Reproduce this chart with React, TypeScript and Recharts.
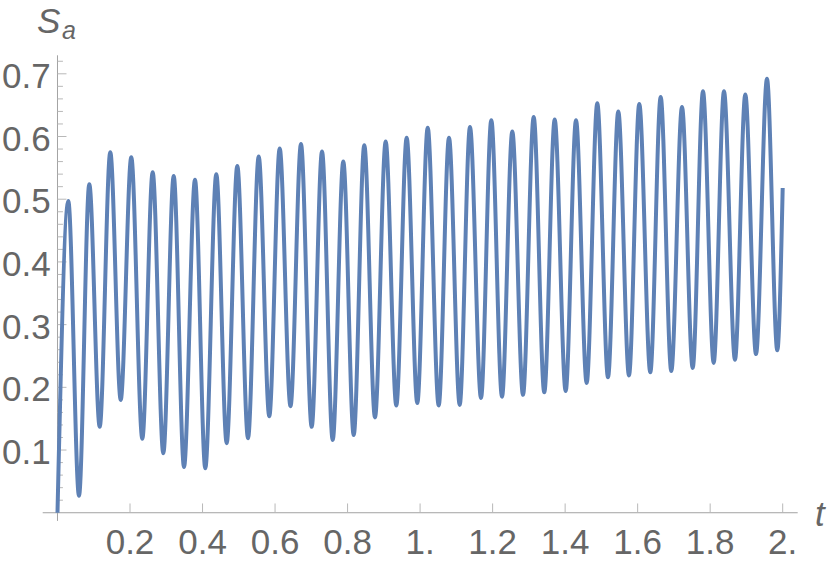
import React from 'react';
import { LineChart, Line, XAxis, YAxis, ReferenceLine } from 'recharts';

// Local maxima of S_a (t, value)
const peakT = [0.0298, 0.0877, 0.1456, 0.2035, 0.2625, 0.3205, 0.3792, 0.438, 0.4959, 0.5549, 0.6128, 0.6715, 0.7295, 0.7882, 0.8461, 0.9051, 0.963, 1.021, 1.0797, 1.1376, 1.1964, 1.2543, 1.3133, 1.3712, 1.43, 1.4887, 1.5466, 1.6045, 1.6635, 1.7223, 1.7802, 1.8381, 1.8969, 1.9567];
const peakS = [0.497, 0.524, 0.575, 0.567, 0.543, 0.537, 0.531, 0.54, 0.553, 0.568, 0.581, 0.588, 0.576, 0.56, 0.586, 0.592, 0.598, 0.614, 0.598, 0.615, 0.626, 0.608, 0.631, 0.627, 0.626, 0.653, 0.64, 0.652, 0.663, 0.647, 0.672, 0.672, 0.667, 0.692];
// Local minima of S_a (t, value)
const troughT = [0.0593, 0.1164, 0.1743, 0.2339, 0.2918, 0.3489, 0.4076, 0.4666, 0.5254, 0.5841, 0.6426, 0.701, 0.759, 0.8169, 0.8756, 0.9344, 0.9923, 1.0513, 1.1092, 1.168, 1.2259, 1.2838, 1.3425, 1.4015, 1.4594, 1.5182, 1.5761, 1.6349, 1.6928, 1.7518, 1.8097, 1.8684, 1.9264, 1.9851];
const troughS = [0.027, 0.137, 0.18, 0.118, 0.095, 0.073, 0.071, 0.111, 0.119, 0.154, 0.17, 0.137, 0.116, 0.124, 0.152, 0.171, 0.175, 0.171, 0.172, 0.183, 0.185, 0.188, 0.192, 0.194, 0.207, 0.216, 0.219, 0.224, 0.226, 0.231, 0.239, 0.244, 0.253, 0.259];
const startPoint = { t: 0, s: 0 };
const endPoint = { t: 2.0, s: 0.518 };

const xTicks = [0.2, 0.4, 0.6, 0.8, 1.0, 1.2, 1.4, 1.6, 1.8, 2.0];
const xTickLabels = ['0.2', '0.4', '0.6', '0.8', '1.', '1.2', '1.4', '1.6', '1.8', '2.'];
const yTicks = [0.1, 0.2, 0.3, 0.4, 0.5, 0.6, 0.7];
const yTickLabels = ['0.1', '0.2', '0.3', '0.4', '0.5', '0.6', '0.7'];
const yMinorTicks = [0.02, 0.04, 0.06, 0.08, 0.12, 0.14, 0.16, 0.18, 0.22, 0.24, 0.26, 0.28, 0.32, 0.34, 0.36, 0.38, 0.42, 0.44, 0.46, 0.48, 0.52, 0.54, 0.56, 0.58, 0.62, 0.64, 0.66, 0.68, 0.72];

const data: { t: number; s: number }[] = [startPoint];
peakT.forEach((t, i) => {
  data.push({ t, s: peakS[i] });
  data.push({ t: troughT[i], s: troughS[i] });
});
data.push(endPoint);

const LINE = '#5E81B5';
const AXIS = '#a3a3a3';
const TICK = '#b8b8b8';
const TEXT = '#666666';
const FONT = '"Liberation Sans", Arial, sans-serif';

const findLabel = (ticks: number[], labels: string[], v: number) => {
  let best = -1;
  ticks.forEach((t, i) => {
    if (Math.abs(t - v) < 1e-6) best = i;
  });
  return best >= 0 ? labels[best] : '';
};

const renderXTick = (props: any) => {
  const { x, y, payload } = props;
  return (
    <text x={x} y={y + 25} textAnchor="middle" fill={TEXT} fontSize={35} fontFamily={FONT}>
      {findLabel(xTicks, xTickLabels, payload.value)}
    </text>
  );
};

const renderYTick = (props: any) => {
  const { x, y, payload } = props;
  return (
    <text x={x + 16} y={y + 14} textAnchor="end" fill={TEXT} fontSize={35} fontFamily={FONT}>
      {findLabel(yTicks, yTickLabels, payload.value)}
    </text>
  );
};

export default function App() {
  return (
    <div style={{ position: 'absolute', left: 0, top: 0, width: 830, height: 563, background: '#fff' }}>
      <LineChart
        width={830}
        height={563}
        data={data}
        margin={{ top: 55.3, right: 32.3, bottom: 2.1, left: 2.7 }}
      >
        <XAxis
          dataKey="t"
          type="number"
          domain={[-0.0408, 2.0414]}
          ticks={xTicks}
          interval={0}
          axisLine={false}
          tickLine={false}
          height={40}
          tick={renderXTick}
          allowDataOverflow
        />
        <YAxis
          type="number"
          domain={[-0.013, 0.7295]}
          ticks={yTicks}
          interval={0}
          axisLine={false}
          tickLine={false}
          width={40}
          tick={renderYTick}
          allowDataOverflow
        />
        <ReferenceLine y={0} stroke={AXIS} strokeWidth={1} />
        <ReferenceLine x={0} stroke={AXIS} strokeWidth={1} />
        {xTicks.map((v) => (
          <ReferenceLine key={'xt' + v} segment={[{ x: v, y: 0 }, { x: v, y: 0.0148 }]} stroke={TICK} strokeWidth={1} />
        ))}
        {yTicks.map((v) => (
          <ReferenceLine key={'yt' + v} segment={[{ x: 0, y: v }, { x: 0.0248, y: v }]} stroke={TICK} strokeWidth={1} />
        ))}
        {yMinorTicks.map((v) => (
          <ReferenceLine key={'ym' + v} segment={[{ x: 0, y: v }, { x: 0.015, y: v }]} stroke={TICK} strokeWidth={1} />
        ))}
        <Line
          dataKey="s"
          type="monotone"
          stroke={LINE}
          strokeWidth={4}
          dot={false}
          isAnimationActive={false}
        />
      </LineChart>
      <svg width={830} height={563} style={{ position: 'absolute', left: 0, top: 0, pointerEvents: 'none' }}>
        <text x={37} y={33} fill={TEXT} fontSize={35} fontStyle="italic" fontFamily={FONT}>S</text>
        <text x={62} y={39} fill={TEXT} fontSize={25} fontStyle="italic" fontFamily={FONT}>a</text>
        <text x={815} y={526} fill={TEXT} fontSize={35} fontStyle="italic" fontFamily={FONT}>t</text>
      </svg>
    </div>
  );
}
